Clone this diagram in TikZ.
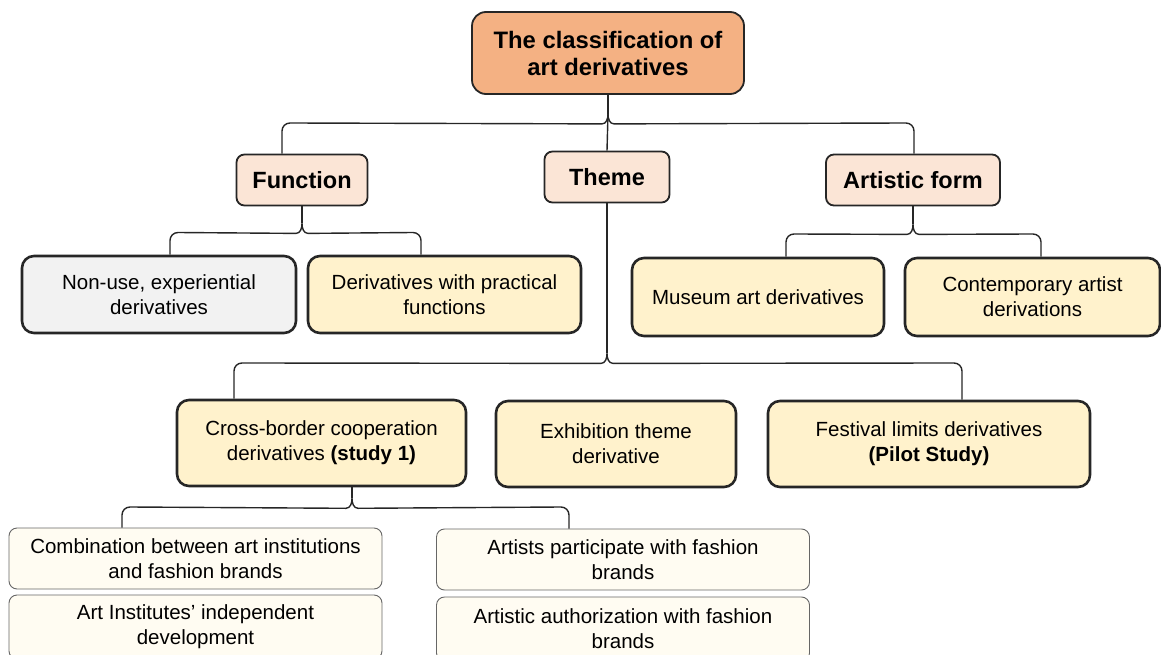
\documentclass[tikz,border=0pt]{standalone}
\usepackage{fontspec}
\setmainfont{Liberation Sans}

\definecolor{rootfill}{HTML}{F4B183}
\definecolor{headfill}{HTML}{FBE5D6}
\definecolor{leaffill}{HTML}{FFF2CC}
\definecolor{greyfill}{HTML}{F2F2F2}
\definecolor{subfill}{HTML}{FFFCF2}
\definecolor{linecol}{HTML}{262626}

\tikzset{
  box/.style={draw=linecol, rounded corners=8pt, align=center, inner sep=2pt},
  rootbox/.style={box, fill=rootfill, line width=1.8pt, rounded corners=14pt, font=\fontsize{23.8}{27}\selectfont\bfseries, minimum width=272pt, minimum height=82pt},
  headbox/.style={box, fill=headfill, line width=1.8pt, font=\fontsize{23.5}{27}\selectfont\bfseries, minimum height=51pt},
  leafbox/.style={box, fill=leaffill, line width=2.6pt, rounded corners=12pt, font=\fontsize{20.5}{25}\selectfont, minimum height=78pt},
  subbox/.style={box, fill=subfill, draw=black!60, line width=0.9pt, font=\fontsize{20.5}{25}\selectfont, minimum width=373pt, minimum height=61pt},
  link/.style={draw=linecol, line width=1.4pt},
}

\begin{document}
\begin{tikzpicture}[x=1pt, y=-1pt]
  \useasboundingbox (0,0) rectangle (1161,655);

  \node [rootbox] (root) at (608,53) {The classification of\\art derivatives};

  \node [headbox, minimum width=131pt] (func) at (302,180) {Function};
  \node [headbox, minimum width=125pt] (theme) at (607,177) {Theme};
  \node [headbox, minimum width=174pt] (artform) at (913,180) {Artistic form};

  \node [leafbox, fill=greyfill, minimum width=274pt, minimum height=77pt] (nonuse) at (159,294.5) {Non-use, experiential\\derivatives};
  \node [leafbox, minimum width=273pt, minimum height=77pt] (practical) at (444.5,294.5) {Derivatives with practical\\functions};
  \node [leafbox, minimum width=252pt] (museum) at (758,297) {Museum art derivatives};
  \node [leafbox, minimum width=255pt] (contemp) at (1032.5,297) {Contemporary artist\\derivations};

  \node [leafbox, minimum width=289pt, minimum height=86pt] (crossb) at (321.5,443) {Cross-border cooperation\\derivatives \textbf{(study 1)}};
  \node [leafbox, minimum width=240pt, minimum height=86pt] (exhib) at (616,444) {Exhibition theme\\derivative};
  \node [leafbox, minimum width=322pt, minimum height=86pt] (festival) at (929,444) {Festival limits derivatives\\\textbf{(Pilot Study)}};

  \node [subbox] (combo) at (195.5,558.5) {Combination between art institutions\\and fashion brands};
  \node [subbox, minimum height=64pt] (artinst) at (195.5,627) {Art Institutes' independent\\development};
  \node [subbox] (artists) at (623,559.5) {Artists participate with fashion\\brands};
  \node [subbox, minimum height=64pt] (authz) at (623,629) {Artistic authorization with fashion\\brands};

  % root -> function, theme, artistic form
  \draw [link] (root.south) -- ++(0,19) coordinate (k1);
  \draw [link] (k1) to[out=-90, in=0] ++(-6,10) -- (290,123) to[out=180, in=90] (282,131) -- (func.north -| 282,0);
  \draw [link] (k1) to[out=-90, in=180] ++(6,10) -- (906,123) to[out=0, in=90] (914,131) -- (artform.north -| 914,0);
  \draw [link] (k1) -- (theme.north);

  % function
  \draw [link] (func.south) -- ++(0,17) coordinate (k2);
  \draw [link] (k2) to[out=-90, in=0] ++(-6,10) -- (178,232.5) to[out=180, in=90] (170,240.5) -- (nonuse.north -| 170,0);
  \draw [link] (k2) to[out=-90, in=180] ++(6,10) -- (413,232.5) to[out=0, in=90] (421,240.5) -- (practical.north -| 421,0);

  % artistic form
  \draw [link] (artform.south) -- ++(0,18) coordinate (k3);
  \draw [link] (k3) to[out=-90, in=0] ++(-6,10) -- (794,234) to[out=180, in=90] (786,242) -- (museum.north -| 786,0);
  \draw [link] (k3) to[out=-90, in=180] ++(6,10) -- (1033,234) to[out=0, in=90] (1041,242) -- (contemp.north -| 1041,0);

  % theme
  \draw [link] (theme.south) -- ++(0,150) coordinate (k4);
  \draw [link] (k4) to[out=-90, in=0] ++(-6,10) -- (242,363) to[out=180, in=90] (234,371) -- (crossb.north -| 234,0);
  \draw [link] (k4) to[out=-90, in=180] ++(6,10) -- (954,363) to[out=0, in=90] (962,371) -- (festival.north -| 962,0);

  % cross-border
  \draw [link] (crossb.south -| 352,0) -- ++(0,11) coordinate (k5);
  \draw [link] (k5) to[out=-90, in=0] ++(-6,10) -- (130,507) to[out=180, in=90] (122,515) -- (combo.north -| 122,0);
  \draw [link] (k5) to[out=-90, in=180] ++(6,10) -- (561,507) to[out=0, in=90] (569,515) -- (artists.north -| 569,0);
\end{tikzpicture}
\end{document}
